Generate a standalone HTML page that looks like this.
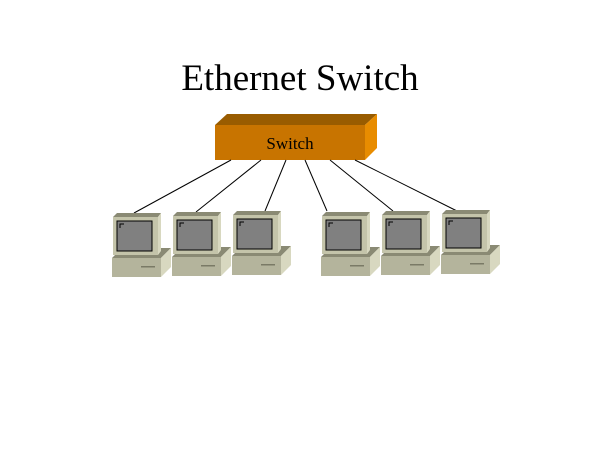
<!DOCTYPE html>
<html><head><style>body{margin:0;background:#fff;}</style></head><body>
<svg width="600" height="450" xmlns="http://www.w3.org/2000/svg">
<rect width="600" height="450" fill="#fff"/>
<text x="300" y="90" font-family="Liberation Serif, serif" font-size="37" text-anchor="middle" fill="#000">Ethernet Switch</text>
<polygon points="215,125 227,114 377,114 365,125" fill="#995c00"/>
<polygon points="365,125 377,114 377,148 365,160" fill="#e88c00"/>
<rect x="215" y="125" width="150" height="35" fill="#c87400"/>
<text x="290" y="149" font-family="Liberation Serif, serif" font-size="17" text-anchor="middle" fill="#000">Switch</text>
<g stroke="#000" stroke-width="1">
<line x1="231" y1="160" x2="134" y2="213"/>
<line x1="261" y1="160" x2="196" y2="212"/>
<line x1="286" y1="160" x2="265" y2="211"/>
<line x1="305" y1="160" x2="327" y2="211"/>
<line x1="330" y1="160" x2="393" y2="211"/>
<line x1="355" y1="160" x2="457" y2="211"/>
</g>
<defs>
<g id="pc">
<polygon points="-1,45 9,35 58,35 48,45" fill="#8a8a74"/>
<polygon points="48,45 58,35 58,54 48,64" fill="#d8d8c0"/>
<rect x="-1" y="45" width="49" height="19" fill="#b4b49c"/>
<rect x="28" y="53" width="14" height="1.5" fill="#7a7a66"/>
<polygon points="0,4 4,0 48,0 45,4" fill="#8a8a74"/>
<polygon points="45,4 48,0 48,38 45,42" fill="#d8d8c0"/>
<rect x="0" y="4" width="45" height="38" fill="#c4c4aa"/>
<rect x="4" y="8" width="35" height="30" fill="#808080" stroke="#000" stroke-width="1"/>
<path d="M7,15 V11 H11" stroke="#000" stroke-width="1" fill="none"/>
</g>
</defs>
<use href="#pc" x="113" y="213"/>
<use href="#pc" x="173" y="212"/>
<use href="#pc" x="233" y="211"/>
<use href="#pc" x="322" y="212"/>
<use href="#pc" x="382" y="211"/>
<use href="#pc" x="442" y="210"/>
</svg>
</body></html>
